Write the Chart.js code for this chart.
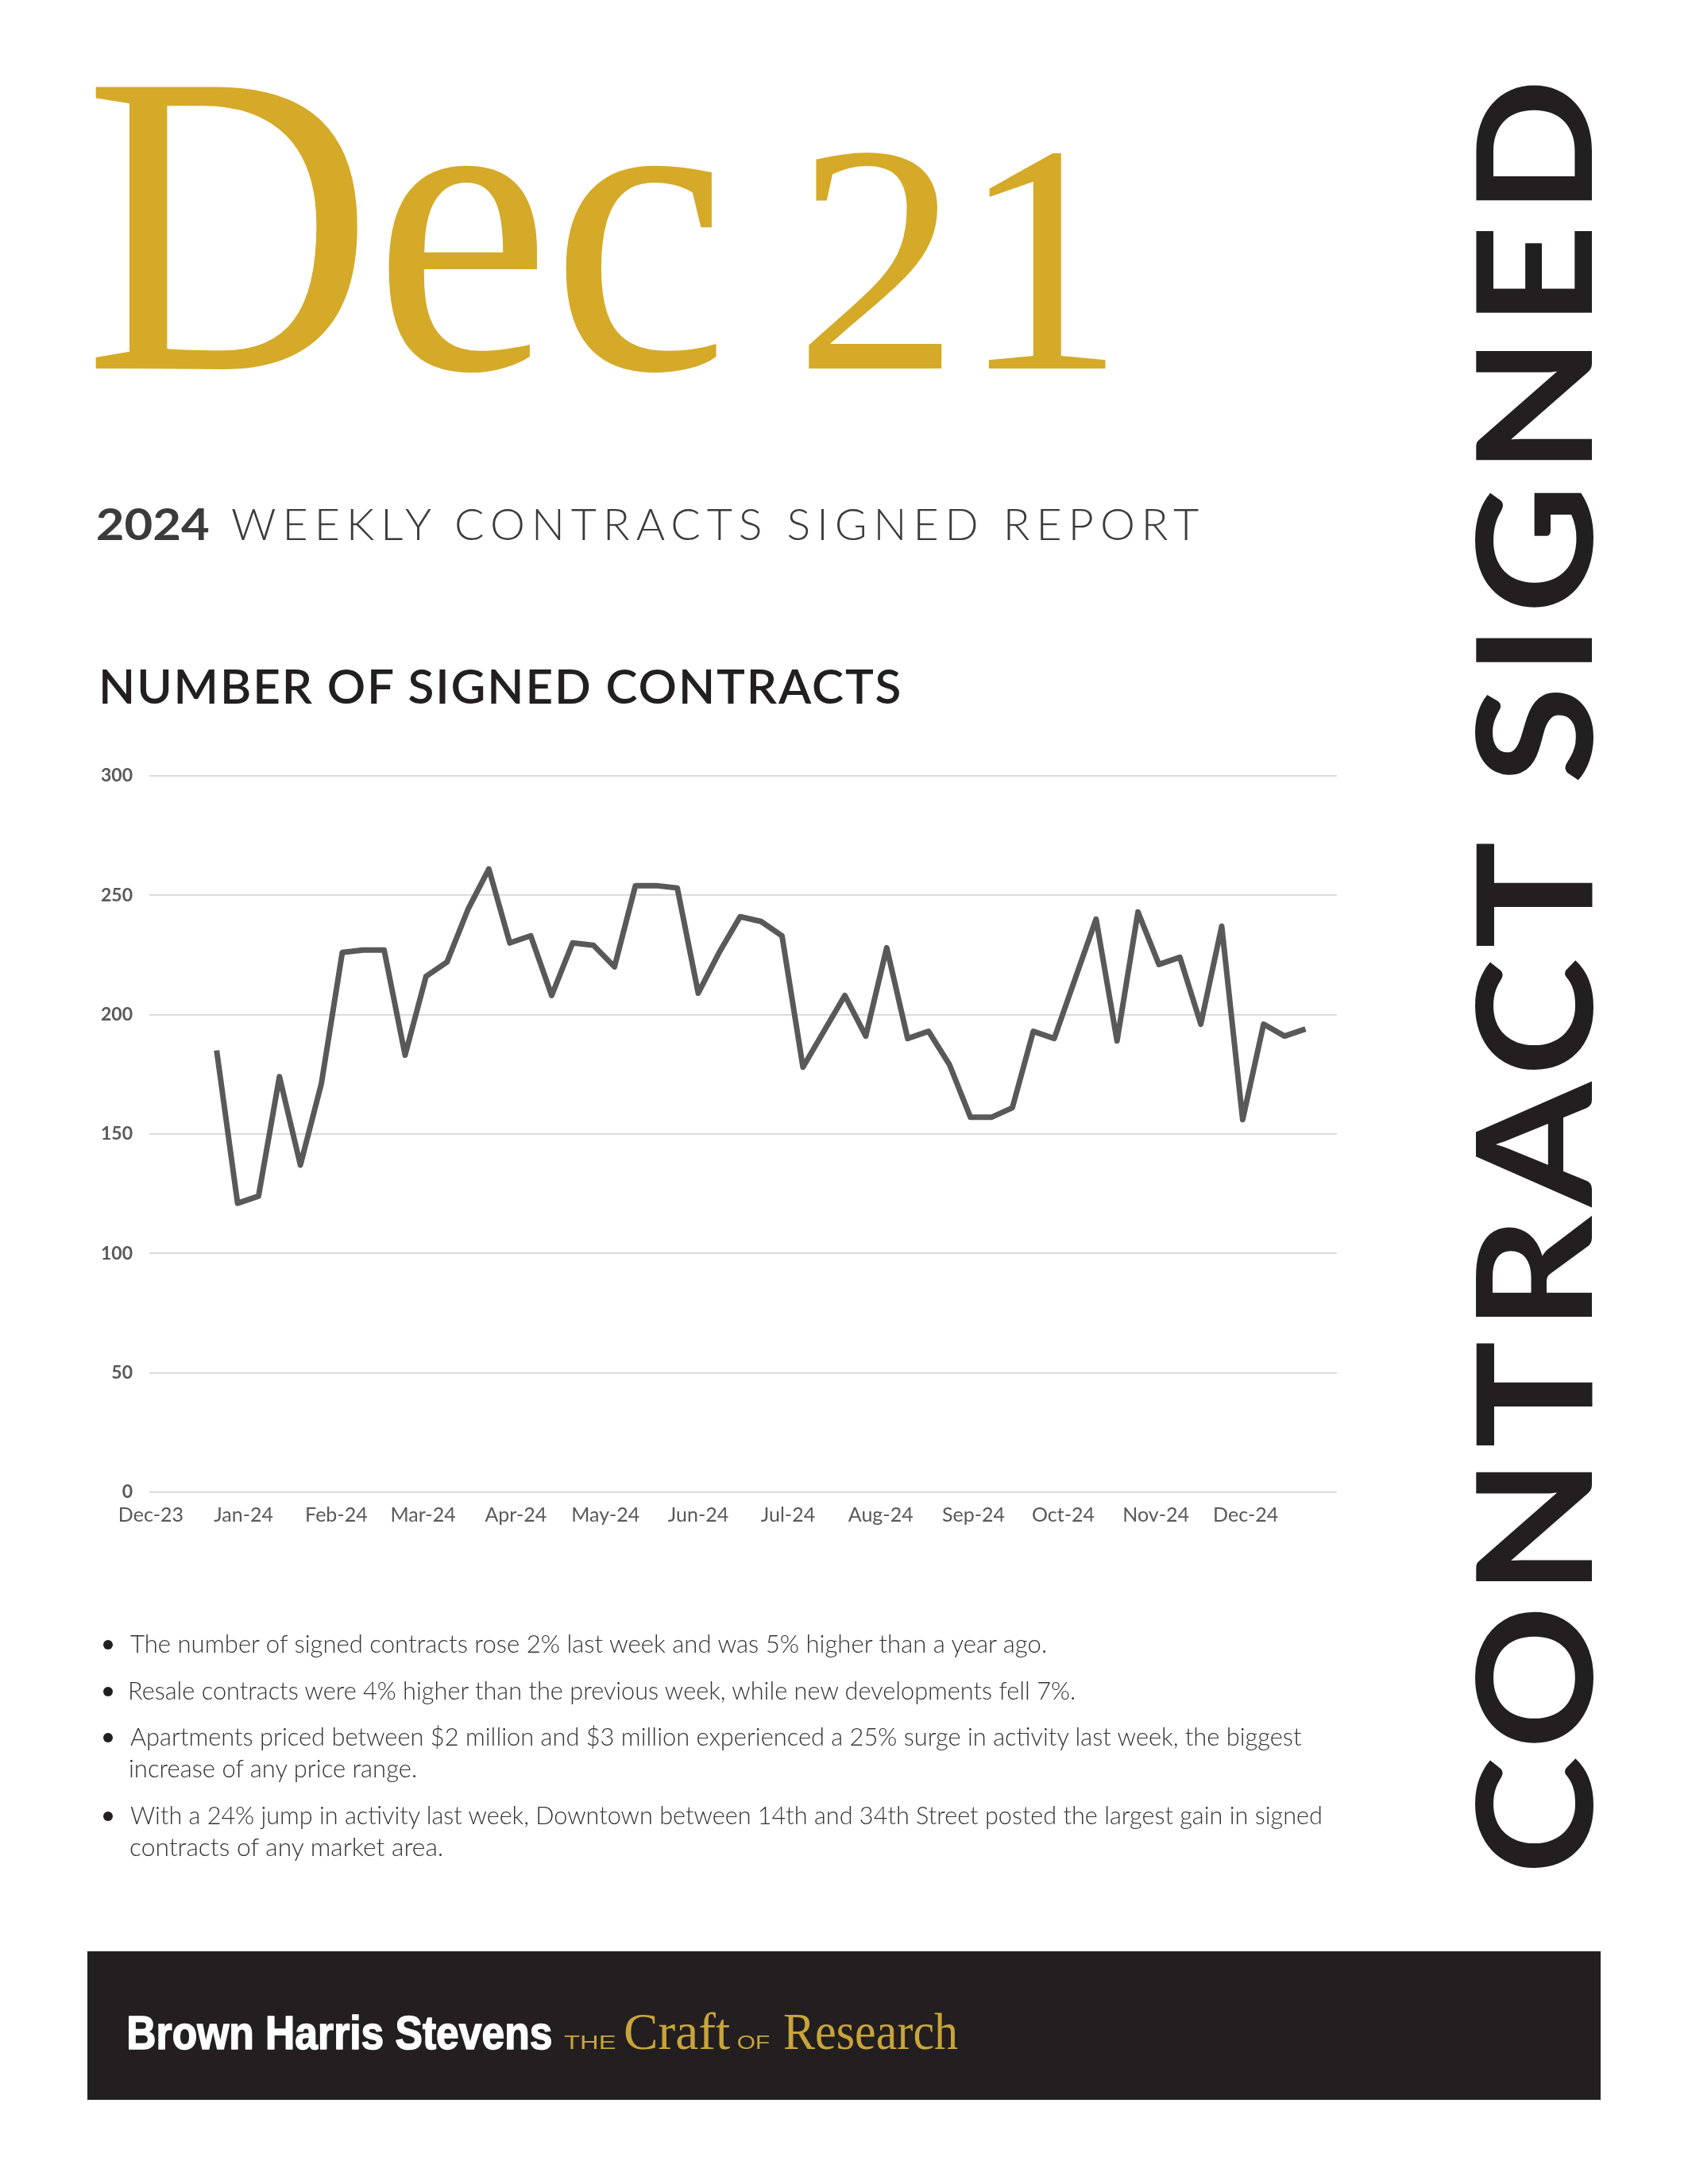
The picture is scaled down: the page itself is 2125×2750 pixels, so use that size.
<!DOCTYPE html>
<html>
<head>
<meta charset="utf-8">
<script src="https://cdn.jsdelivr.net/npm/chart.js@4.4.1/dist/chart.umd.min.js"></script>
<style>
  html, body { margin:0; padding:0; background:#fff; }
  #page { position:relative; width:2125px; height:2750px; overflow:hidden; background:#fff; }
  #chart { position:absolute; left:100px; top:942px; z-index:1; }
  #txt { position:absolute; left:0; top:0; z-index:2; }
</style>
</head>
<body>
<div id="page">
  <canvas id="chart" width="1600" height="998"></canvas>
  <svg id="txt" width="2125" height="2750" xmlns="http://www.w3.org/2000/svg"></svg>
</div>
<script>
// ---------- DATA ----------
const weekDates = [
  "2023-12-23","2023-12-30","2024-01-06","2024-01-13","2024-01-20","2024-01-27",
  "2024-02-03","2024-02-10","2024-02-17","2024-02-24","2024-03-02","2024-03-09",
  "2024-03-16","2024-03-23","2024-03-30","2024-04-06","2024-04-13","2024-04-20",
  "2024-04-27","2024-05-04","2024-05-11","2024-05-18","2024-05-25","2024-06-01",
  "2024-06-08","2024-06-15","2024-06-22","2024-06-29","2024-07-06","2024-07-13",
  "2024-07-20","2024-07-27","2024-08-03","2024-08-10","2024-08-17","2024-08-24",
  "2024-08-31","2024-09-07","2024-09-14","2024-09-21","2024-09-28","2024-10-05",
  "2024-10-12","2024-10-19","2024-10-26","2024-11-02","2024-11-09","2024-11-16",
  "2024-11-23","2024-11-30","2024-12-07","2024-12-14","2024-12-21"
];
const signedContracts = [
  185,121,124,174,137,171,
  226,227,227,183,216,222,
  244,261,230,233,208,230,
  229,220,254,254,253,209,
  226,241,239,233,178,193,
  208,191,228,190,193,179,
  157,157,161,193,190,215,
  240,189,243,221,224,196,
  237,156,196,191,194
];
const monthTickDates = [
  "2023-12-01","2024-01-01","2024-02-01","2024-03-01","2024-04-01","2024-05-01","2024-06-01",
  "2024-07-01","2024-08-01","2024-09-01","2024-10-01","2024-11-01","2024-12-01"
];
const monthTickLabels = [
  "Dec-23","Jan-24","Feb-24","Mar-24","Apr-24","May-24","Jun-24",
  "Jul-24","Aug-24","Sep-24","Oct-24","Nov-24","Dec-24"
];
const axisStart = "2023-12-01";
const axisEnd = "2025-01-01";
const yTicks = { min: 0, max: 300, step: 50 };

const bullets = [
  ["The number of signed contracts rose 2% last week and was 5% higher than a year ago."],
  ["Resale contracts were 4% higher than the previous week, while new developments fell 7%."],
  ["Apartments priced between $2 million and $3 million experienced a 25% surge in activity last week, the biggest",
   "increase of any price range."],
  ["With a 24% jump in activity last week, Downtown between 14th and 34th Street posted the largest gain in signed",
   "contracts of any market area."]
];

// ---------- CHART ----------
const DAY = 86400000;
const dayIndex = s => Math.round((Date.parse(s + "T00:00:00Z") - Date.parse(axisStart + "T00:00:00Z")) / DAY);

new Chart(document.getElementById('chart'), {
  type: 'line',
  data: {
    datasets: [{
      data: weekDates.map((d, i) => ({ x: dayIndex(d), y: signedContracts[i] })),
      borderColor: '#595959',
      borderWidth: 7,
      pointRadius: 0,
      tension: 0,
      fill: false,
      borderJoinStyle: 'round',
      borderCapStyle: 'butt'
    }]
  },
  options: {
    responsive: false,
    animation: false,
    devicePixelRatio: 1,
    layout: { padding: { top: 19, right: 17, left: 0, bottom: 0 } },
    plugins: { legend: { display: false }, tooltip: { enabled: false } },
    scales: {
      x: {
        type: 'linear',
        min: dayIndex(axisStart) - 0.5,
        max: dayIndex(axisEnd) - 0.5,
        grid: { display: false, drawTicks: false },
        border: { display: false },
        afterBuildTicks: s => { s.ticks = monthTickDates.map(d => ({ value: dayIndex(d) })); },
        afterFit: s => { s.height = 61; },
        ticks: {
          autoSkip: false, maxRotation: 0, minRotation: 0, padding: 14,
          color: '#595959',
          font: { family: 'Lato', size: 25, weight: 'normal' },
          callback: (v, i) => monthTickLabels[i]
        }
      },
      y: {
        min: yTicks.min, max: yTicks.max,
        grid: { color: '#d6d6d6', lineWidth: 1.7, drawTicks: false },
        border: { display: false },
        afterFit: s => { s.width = 88; },
        ticks: {
          stepSize: yTicks.step, padding: 21,
          color: '#595959',
          font: { family: 'Lato', size: 23, weight: 'bold' }
        }
      }
    }
  }
});

// ---------- TEXT ----------
const NS = 'http://www.w3.org/2000/svg';
const svg = document.getElementById('txt');
const mctx = document.createElement('canvas').getContext('2d');
function meas(text, font) { mctx.font = font; return mctx.measureText(text); }

function addText(o) {
  const parent = o.parent || svg;
  const cssFam = o.family.split(',').map(f => { f = f.trim(); return f.includes(' ') ? "'" + f + "'" : f; }).join(', ');
  const w = o.weight || 400;
  let size = o.size;
  if (!size) {
    const capH = meas(o.capChar || 'H', `${w} 100px ${cssFam}`).actualBoundingBoxAscent;
    size = o.cap * 100 / capH;
  }
  const font = `${w} ${size}px ${cssFam}`;
  const m = meas(o.text, font);
  const inkL = -m.actualBoundingBoxLeft, inkR = m.actualBoundingBoxRight;
  const el = document.createElementNS(NS, 'text');
  el.textContent = o.text;
  el.setAttribute('font-family', cssFam);
  el.setAttribute('font-weight', w);
  el.setAttribute('font-size', size);
  el.setAttribute('fill', o.fill || '#000');
  el.setAttribute('y', o.base);
  el.setAttribute('xml:space', 'preserve');
  if (o.stroke) { el.setAttribute('stroke', o.fill); el.setAttribute('stroke-width', o.stroke); el.setAttribute('stroke-linejoin', 'round'); }
  const mode = o.mode || 'scale';
  if (mode === 'scale') {
    const s = (o.R - o.L) / (inkR - inkL);
    el.setAttribute('x', o.L - s * inkL);
    el.setAttribute('textLength', s * m.width);
    el.setAttribute('lengthAdjust', 'spacingAndGlyphs');
  } else if (mode === 'spacing') {
    const k = o.k || 1;
    const n = [...o.text].length;
    const ls = ((o.R - o.L) / k - (inkR - inkL)) / (n - 1);
    el.setAttribute('letter-spacing', ls);
    el.setAttribute('x', o.L / k - inkL);
    if (k !== 1) el.setAttribute('transform', `scale(${k},1)`);
  }
  parent.appendChild(el);
  return el;
}

const GOLD = '#D5AA28';
const SERIF = 'Liberation Serif, Times New Roman, serif';
const SANS = 'Lato, Noto Sans, sans-serif';
const NARROW = 'Liberation Sans Narrow, Liberation Sans, Arial, sans-serif';

// Big date
addText({ text: 'Dec', family: SERIF, cap: 352, capChar: 'D', L: 114, R: 906, base: 464, fill: GOLD });
addText({ text: '21', family: SERIF, cap: 271, capChar: '2', L: 1013, R: 1397, base: 464, fill: GOLD });

// Report title
addText({ text: '2024', family: SANS, weight: 700, cap: 40, L: 123, R: 263, base: 680, fill: '#3b3b3b' });
addText({ text: 'WEEKLY CONTRACTS SIGNED REPORT', family: SANS, weight: 300, cap: 40, L: 292, R: 1511, base: 680, fill: '#3b3b3b', mode: 'spacing' });

// Chart title
addText({ text: 'NUMBER OF SIGNED CONTRACTS', family: SANS, weight: 600, cap: 44, L: 129, R: 1134, base: 886, fill: '#231f20', mode: 'spacing' });

// Bullets
const bulletBases = [[2081], [2140], [2198, 2238], [2297, 2337]];
const bulletRights = [[1316], [1352], [1638, 523], [1663, 556]];
bullets.forEach((lines, bi) => {
  const c = document.createElementNS(NS, 'circle');
  c.setAttribute('cx', 136); c.setAttribute('cy', bulletBases[bi][0] - 10);
  c.setAttribute('r', 6); c.setAttribute('fill', '#231f20');
  svg.appendChild(c);
  lines.forEach((ln, li) => {
    addText({ text: ln, family: SANS, weight: 300, cap: 22, L: 164, R: bulletRights[bi][li], base: bulletBases[bi][li], fill: '#333333' });
  });
});

// Footer
const rect = document.createElementNS(NS, 'rect');
rect.setAttribute('x', 110); rect.setAttribute('y', 2457);
rect.setAttribute('width', 1905); rect.setAttribute('height', 187);
rect.setAttribute('fill', '#231f20');
svg.appendChild(rect);
const FG = '#C9A43B';
addText({ text: 'Brown Harris Stevens', family: NARROW, weight: 700, cap: 41, L: 162, R: 694, base: 2580, fill: '#ffffff', stroke: 1.6 });
addText({ text: 'THE', family: NARROW, cap: 16, L: 710, R: 775, base: 2580, fill: FG });
addText({ text: 'Craft', family: SERIF, cap: 43, capChar: 'C', L: 787, R: 919, base: 2580, fill: FG });
addText({ text: 'OF', family: NARROW, cap: 16, L: 929, R: 969, base: 2580, fill: FG });
addText({ text: 'Research', family: SERIF, cap: 43, capChar: 'R', L: 987, R: 1206, base: 2580, fill: FG });

// Vertical label
const g = document.createElementNS(NS, 'g');
g.setAttribute('transform', 'translate(2004,2353) rotate(-90)');
svg.appendChild(g);
addText({ parent: g, text: 'CONTRACT SIGNED', family: SANS, weight: 700, cap: 147, L: 0, R: 2253, base: 0, fill: '#231f20', mode: 'spacing', k: 1.12 });
</script>
</body>
</html>
